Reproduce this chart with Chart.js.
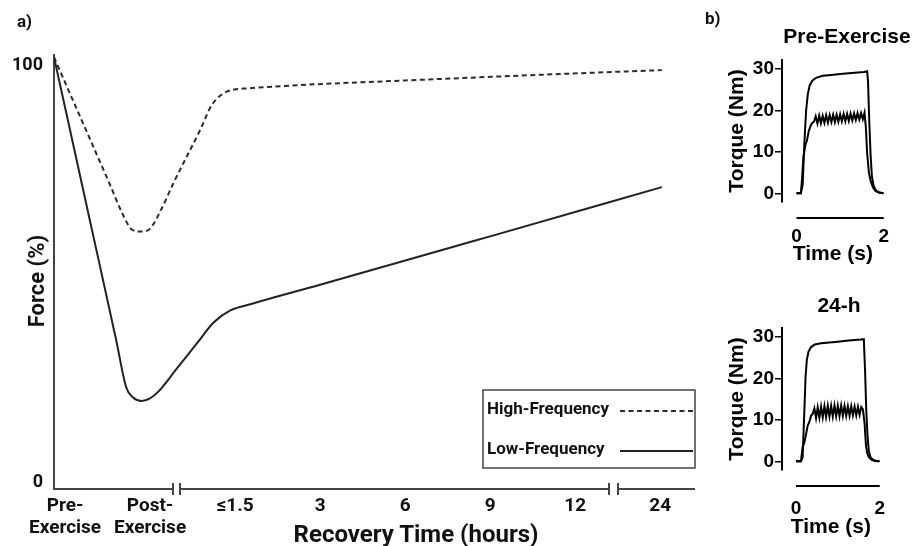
<!DOCTYPE html>
<html><head><meta charset="utf-8">
<script src="https://cdn.jsdelivr.net/npm/chart.js@4.4.1/dist/chart.umd.min.js"></script>
<style>
html,body{margin:0;padding:0;width:912px;height:546px;overflow:hidden;background:#fff;}
canvas{position:absolute;left:0;top:0;}
.lbl{position:absolute;font-weight:bold;color:#111;white-space:nowrap;}
.ctr{transform:translate(-50%,-50%);line-height:1;}
</style></head><body>
<canvas id="mainChart" width="912" height="546"></canvas>
<canvas id="preChart" width="912" height="546"></canvas>
<canvas id="postChart" width="912" height="546"></canvas>
<div class="lbl" style="left:17px;top:12px;font:bold 17px Roboto;line-height:18px;">a)</div>
<div class="lbl" style="left:705px;top:9px;font:bold 17px Roboto;line-height:18px;">b)</div>
<div class="lbl ctr" style="left:416px;top:534px;font:bold 24px Roboto;line-height:1;">Recovery Time (hours)</div>
<div class="lbl" style="left:37px;top:281px;font:bold 22px Roboto;line-height:1;transform:translate(-50%,-50%) rotate(-90deg);">Force (%)</div>
<div class="lbl ctr" style="left:847px;top:35px;font:bold 21px 'Liberation Sans';line-height:1;color:#000;">Pre-Exercise</div>
<div class="lbl ctr" style="left:839px;top:304px;font:bold 21px 'Liberation Sans';line-height:1;color:#000;">24-h</div>
<script>
// ---------- Panel a: schematic force recovery ----------
const xCategories = [["Pre-","Exercise"],["Post-","Exercise"],"≤1.5","3","6","9","12","24"];
const xTickValues = [0,1,2,3,4,5,6,7];
const yTickValues = [0,100];
const axisBreaks = [[1.27,1.35],[6.40,6.51]];

const highFreqX = [-0.13, 0.2, 0.53, 0.674, 0.785, 0.902, 1.0, 1.118, 1.274, 1.588, 1.726, 1.902, 2.176, 2.73, 4.0, 5.82, 7.02];
const highFreqY = [100, 85.2, 70.4, 63.8, 60.1, 59.6, 60.3, 64.2, 70.8, 83.1, 88.9, 92.0, 92.8, 93.5, 94.6, 96.1, 97.0];

const lowFreqX = [-0.13, 0.3, 0.6, 0.72, 0.8, 0.9, 1.0, 1.1, 1.3, 1.55, 1.75, 1.95, 2.2, 3.0, 5.0, 7.02];
const lowFreqY = [100, 61.5, 34.6, 23.5, 21.2, 20.4, 21.0, 22.6, 27.5, 33.7, 38.6, 41.4, 42.9, 47.3, 58.5, 69.9];

// ---------- Panel b: torque traces ----------
const timeTicks = [0, 2];
const torqueTicks = [0, 10, 20, 30];

const preMaxTime   = [0, 0.1, 0.14, 0.18, 0.22, 0.26, 0.3, 0.36, 0.45, 0.6, 0.8, 1.0, 1.2, 1.4, 1.55, 1.62, 1.64, 1.67, 1.7, 1.73, 1.77, 1.82, 1.9, 2.0];
const preMaxTorque = [0, 0, 2, 12, 20, 24, 26, 27.2, 27.9, 28.4, 28.6, 28.8, 29.0, 29.2, 29.3, 29.5, 27, 17, 9, 4, 1.8, 0.7, 0.2, 0];

const preLowTime   = [0, 0.1, 0.13, 0.16, 0.2, 0.24, 0.28, 0.32, 0.36, 0.4,
  0.44, 0.48, 0.52, 0.56, 0.6, 0.64, 0.68, 0.72, 0.76, 0.8, 0.84, 0.88, 0.92, 0.96, 1.0, 1.04, 1.08, 1.12, 1.16, 1.2, 1.24, 1.28, 1.32, 1.36, 1.4, 1.44, 1.48, 1.52, 1.56,
  1.59, 1.62, 1.66, 1.7, 1.75, 1.8, 1.88, 2.0];
const preLowTorque = [0, 0, 4, 9, 11.5, 12.8, 15, 16.2, 17, 17.3,
  18.6, 16.8, 18.8, 16.9, 18.7, 17.0, 18.9, 17.1, 18.9, 17.2, 19.0, 17.2, 19.0, 17.3, 19.1, 17.4, 19.2, 17.4, 19.2, 17.5, 19.3, 17.6, 19.3, 17.7, 19.4, 17.8, 19.4, 17.9, 19.5,
  16, 9.7, 5, 3, 1.5, 0.7, 0.2, 0];

const postMaxTime   = [0, 0.12, 0.16, 0.2, 0.23, 0.26, 0.3, 0.36, 0.45, 0.6, 0.8, 1.0, 1.2, 1.4, 1.55, 1.62, 1.65, 1.68, 1.71, 1.74, 1.78, 1.84, 1.92, 2.0];
const postMaxTorque = [0, 0, 1, 12, 20.5, 24.5, 26.5, 27.6, 28.2, 28.5, 28.7, 28.9, 29.1, 29.3, 29.4, 29.5, 22, 12, 6, 2.5, 1.0, 0.4, 0.1, 0];

const postLowTime   = [0, 0.12, 0.16, 0.2, 0.24, 0.28, 0.32, 0.36, 0.4,
  0.44, 0.48, 0.52, 0.56, 0.6, 0.64, 0.68, 0.72, 0.76, 0.8, 0.84, 0.88, 0.92, 0.96, 1.0, 1.04, 1.08, 1.12, 1.16, 1.2, 1.24, 1.28, 1.32, 1.36, 1.4, 1.44, 1.48, 1.52, 1.56,
  1.6, 1.64, 1.67, 1.7, 1.74, 1.8, 1.88, 2.0];
const postLowTorque = [0, 0, 3.5, 4.5, 6.5, 8.6, 9.5, 11, 11.5,
  12.8, 10.4, 13.0, 10.5, 13.2, 10.6, 13.3, 10.7, 13.4, 10.8, 13.4, 10.8, 13.5, 10.9, 13.4, 10.9, 13.5, 11.0, 13.4, 11.0, 13.3, 11.0, 13.3, 11.1, 13.2, 11.1, 13.2, 11.2, 13.1,
  12.5, 9, 4, 2, 1, 0.4, 0.1, 0];

const toPts = (xs, ys) => xs.map((x, i) => ({x: x, y: ys[i]}));

// broken x axis line with break marks
const brokenAxisPlugin = {
  id: 'brokenAxis',
  afterDatasetsDraw(chart, args, opts) {
    const s = chart.scales.x, ctx = chart.ctx, y = chart.chartArea.bottom;
    const segs = [];
    let start = chart.chartArea.left;
    axisBreaks.forEach(b => {
      const a = s.getPixelForValue(b[0]), c = s.getPixelForValue(b[1]);
      segs.push([start, a]); start = c;
    });
    segs.push([start, chart.chartArea.right]);
    ctx.save();
    ctx.strokeStyle = opts.color; ctx.lineWidth = opts.width;
    ctx.beginPath();
    segs.forEach(sg => { ctx.moveTo(sg[0], y); ctx.lineTo(sg[1], y); });
    axisBreaks.forEach(b => {
      [b[0], b[1]].forEach(v => {
        const px = Math.round(s.getPixelForValue(v));
        ctx.moveTo(px, y - opts.mark); ctx.lineTo(px, y + opts.mark);
      });
    });
    ctx.stroke();
    ctx.restore();
  }
};

// y tick labels kept inside the axis span
const yLabelPlugin = {
  id: 'yLabels',
  afterDraw(chart, args, opts) {
    const s = chart.scales.y, ctx = chart.ctx;
    ctx.save();
    ctx.font = opts.font; ctx.fillStyle = opts.color;
    ctx.textAlign = 'right'; ctx.textBaseline = 'middle';
    s.ticks.forEach(t => {
      let py = s.getPixelForValue(t.value);
      py = Math.min(Math.max(py, s.top + opts.insetTop), s.bottom - opts.insetBottom);
      ctx.fillText(t.label !== undefined ? t.label : String(t.value), s.right - opts.gap, py);
    });
    ctx.restore();
  }
};

// boxed legend, text first then line sample
const boxLegendPlugin = {
  id: 'boxLegend',
  afterDraw(chart, args, opts) {
    const ctx = chart.ctx;
    ctx.save();
    ctx.strokeStyle = opts.boxColor; ctx.lineWidth = opts.boxWidth;
    ctx.strokeRect(opts.x, opts.y, opts.w, opts.h);
    ctx.font = opts.font; ctx.fillStyle = opts.color;
    ctx.textAlign = 'left'; ctx.textBaseline = 'middle';
    chart.data.datasets.forEach((ds, i) => {
      const cy = opts.y + opts.firstRow + i * opts.rowGap;
      ctx.fillText(ds.label, opts.x + opts.textPad, cy);
      ctx.save();
      ctx.strokeStyle = ds.borderColor; ctx.lineWidth = ds.borderWidth;
      ctx.setLineDash(ds.borderDash || []);
      ctx.beginPath();
      ctx.moveTo(opts.sampleStart, cy + 1); ctx.lineTo(opts.x + opts.w - 2, cy + 1);
      ctx.stroke();
      ctx.restore();
    });
    ctx.restore();
  }
};

new Chart(document.getElementById('mainChart'), {
  type: 'line',
  data: {
    datasets: [
      {label: 'High-Frequency', data: toPts(highFreqX, highFreqY), borderColor: '#2b2b2b', borderWidth: 2,
       borderDash: [5, 3.5], pointRadius: 0, cubicInterpolationMode: 'monotone', fill: false},
      {label: 'Low-Frequency', data: toPts(lowFreqX, lowFreqY), borderColor: '#222', borderWidth: 2,
       pointRadius: 0, cubicInterpolationMode: 'monotone', fill: false}
    ]
  },
  options: {
    responsive: false, animation: false, devicePixelRatio: 1,
    layout: {padding: {left: 0, right: 217, top: 55, bottom: 0}},
    plugins: {
      legend: {display: false}, tooltip: {enabled: false},
      brokenAxis: {color: '#444', width: 2, mark: 6},
      yLabels: {font: 'bold 18px Roboto', color: '#111', gap: 11, insetTop: 10, insetBottom: 7},
      boxLegend: {x: 483, y: 390, w: 212, h: 78, firstRow: 20, rowGap: 40, textPad: 4, sampleStart: 620,
                  font: 'bold 17px Roboto', color: '#111', boxColor: '#444', boxWidth: 1.5}
    },
    scales: {
      x: {
        type: 'linear', min: -0.13, max: 7.41,
        afterBuildTicks: s => { s.ticks = xTickValues.map(v => ({value: v})); },
        afterFit: s => { s.height = 57; },
        grid: {display: false, drawTicks: false}, border: {display: false},
        ticks: {autoSkip: false, maxRotation: 0, padding: 6, color: '#111',
                font: {family: 'Roboto', weight: 'bold', size: 19, lineHeight: 1.15},
                callback: (v, i) => xCategories[i]},
        title: {display: false}
      },
      y: {
        type: 'linear', min: 0, max: 100.5,
        afterBuildTicks: s => { s.ticks = yTickValues.map(v => ({value: v})); },
        afterFit: s => { s.width = 54; },
        grid: {display: false, drawTicks: false},
        border: {display: true, color: '#444', width: 2},
        ticks: {display: false},
        title: {display: false}
      }
    }
  },
  plugins: [brokenAxisPlugin, yLabelPlugin, boxLegendPlugin]
});

// offset x-axis line for the torque panels
const offsetAxisPlugin = {
  id: 'offsetAxis',
  afterDraw(chart, args, opts) {
    const s = chart.scales.x, ctx = chart.ctx;
    const y = chart.chartArea.bottom + opts.offset;
    ctx.save();
    ctx.strokeStyle = '#000'; ctx.lineWidth = 2;
    ctx.beginPath();
    ctx.moveTo(s.getPixelForValue(timeTicks[0]), y);
    ctx.lineTo(s.getPixelForValue(timeTicks[timeTicks.length - 1]), y);
    ctx.stroke();
    ctx.restore();
  }
};

function torqueChart(id, maxT, maxV, lowT, lowV, areaTop, labelPad, xHeight) {
  const font = {family: "'Liberation Sans', Arial, sans-serif", weight: 'bold', size: 19};
  const tfont = {family: "'Liberation Sans', Arial, sans-serif", weight: 'bold', size: 21};
  return new Chart(document.getElementById(id), {
    type: 'line',
    data: {datasets: [
      {data: toPts(maxT, maxV), borderColor: '#000', borderWidth: 2, pointRadius: 0, tension: 0},
      {data: toPts(lowT, lowV), borderColor: '#000', borderWidth: 2, pointRadius: 0, tension: 0}
    ]},
    options: {
      responsive: false, animation: false, devicePixelRatio: 1,
      layout: {padding: {left: 720, right: 25, top: areaTop, bottom: 546 - areaTop - 142 - xHeight}},
      plugins: {legend: {display: false}, tooltip: {enabled: false}, offsetAxis: {offset: 16}},
      scales: {
        x: {
          type: 'linear', min: -0.333, max: 2,
          afterBuildTicks: s => { s.ticks = timeTicks.map(v => ({value: v})); },
          afterFit: s => { s.height = xHeight; },
          grid: {display: false, drawTicks: false}, border: {display: false},
          ticks: {autoSkip: false, maxRotation: 0, padding: labelPad, color: '#000', font: font},
          title: {display: true, text: 'Time (s)', color: '#000', font: tfont, padding: {top: 0, bottom: 0}}
        },
        y: {
          type: 'linear', min: -2.1, max: 32.2,
          afterBuildTicks: s => { s.ticks = torqueTicks.map(v => ({value: v})); },
          afterFit: s => { s.width = 62; },
          grid: {display: true, drawOnChartArea: false, drawTicks: true, tickLength: 7, color: '#000', lineWidth: 1.5},
          border: {display: true, color: '#000', width: 2},
          ticks: {padding: 1, color: '#000', font: font},
          title: {display: true, text: 'Torque (Nm)', color: '#000', font: tfont, padding: {top: 5, bottom: 0}}
        }
      }
    },
    plugins: [offsetAxisPlugin]
  });
}

torqueChart('preChart', preMaxTime, preMaxTorque, preLowTime, preLowTorque, 60, 23, 65);
torqueChart('postChart', postMaxTime, postMaxTorque, postLowTime, postLowTorque, 328, 27, 70);
</script>
</body></html>
